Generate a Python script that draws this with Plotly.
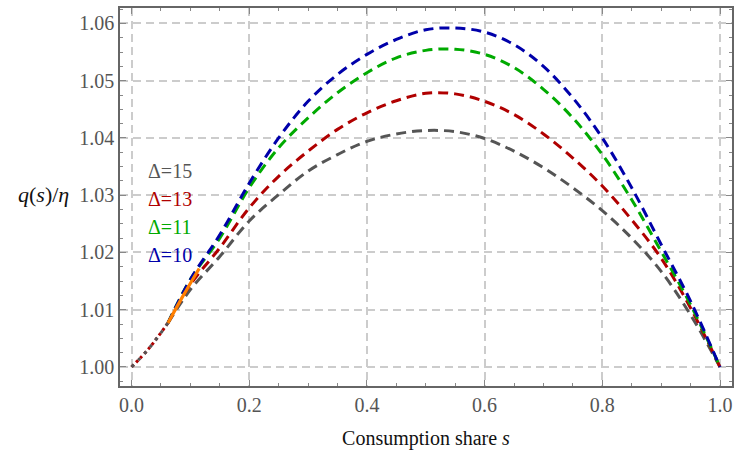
import plotly.graph_objects as go

# Consumption share grid for the dashed curves
s_vals = [0.062, 0.1, 0.15, 0.2, 0.25, 0.3, 0.35, 0.4, 0.45, 0.5, 0.55,
          0.6, 0.65, 0.7, 0.75, 0.8, 0.85, 0.9, 0.95, 1.0]

q_d15 = [1.0077, 1.0135, 1.0193, 1.0255, 1.0301, 1.0342, 1.0371, 1.0394, 1.0407, 1.0413, 1.0411,
         1.0399, 1.0377, 1.0348, 1.0313, 1.0273, 1.0225, 1.0167, 1.0091, 1.0000]
q_d13 = [1.0077, 1.0144, 1.0208, 1.0278, 1.0333, 1.0377, 1.0415, 1.0444, 1.0465, 1.0478, 1.0477,
         1.0464, 1.0441, 1.0407, 1.0365, 1.0316, 1.0257, 1.0190, 1.0103, 1.0000]
q_d11 = [1.0077, 1.0153, 1.0225, 1.0313, 1.0383, 1.0435, 1.0479, 1.0514, 1.0540, 1.0553, 1.0555,
         1.0546, 1.0523, 1.0485, 1.0435, 1.0371, 1.0292, 1.0202, 1.0109, 1.0000]
q_d10 = [1.0077, 1.0153, 1.0231, 1.0321, 1.0400, 1.0464, 1.0511, 1.0546, 1.0572, 1.0589, 1.0592,
         1.0585, 1.0563, 1.0525, 1.0470, 1.0400, 1.0313, 1.0214, 1.0115, 1.0000]

# Common low-share segment (dotted) and highlighted segment (orange)
s_low = [0.0, 0.03, 0.062]
q_low = [1.0, 1.0033, 1.0077]
s_hl = [0.062, 0.088, 0.115]
q_hl = [1.0077, 1.0125, 1.0172]

labels = ["Δ=15", "Δ=13", "Δ=11", "Δ=10"]
label_y = [1.0343, 1.0294, 1.0244, 1.0195]
colors = ["#555555", "#b00000", "#00aa00", "#0000aa"]
series = [q_d15, q_d13, q_d11, q_d10]

x_ticks = [0.0, 0.2, 0.4, 0.6, 0.8, 1.0]
y_ticks = [1.00, 1.01, 1.02, 1.03, 1.04, 1.05, 1.06]

FONT = "Liberation Serif"

fig = go.Figure()
fig.add_trace(go.Scatter(x=s_low, y=q_low, mode="lines", line_shape="spline",
                         line=dict(color="#b00000", width=3, dash="3px,3px")))
fig.add_trace(go.Scatter(x=s_low, y=q_low, mode="lines", line_shape="spline",
                         line=dict(color="#555555", width=3, dash="3px,6px")))
for q, c in zip(series, colors):
    fig.add_trace(go.Scatter(x=s_vals, y=q, mode="lines", line_shape="spline",
                             line=dict(color=c, width=3, dash="10px,6px")))
fig.add_trace(go.Scatter(x=s_hl, y=q_hl, mode="lines", line_shape="spline",
                         line=dict(color="#ff8000", width=3.2)))

for t, yv, c in zip(labels, label_y, colors):
    fig.add_annotation(x=0.024, y=yv, text=t, showarrow=False, xanchor="left",
                       yanchor="middle", font=dict(family=FONT, size=20, color=c))

fig.add_annotation(xref="paper", yref="y", x=0, y=1.0302, xanchor="right", yanchor="middle",
                   xshift=-49, showarrow=False,
                   text="<i>q</i>(<i>s</i>)/<i>η</i>",
                   font=dict(family=FONT, size=22, color="#111111"))

axis_common = dict(showline=True, linecolor="#666666", linewidth=1.5, mirror="ticks",
                   ticks="inside", ticklen=6, tickcolor="#888888", tickwidth=1,
                   showgrid=True, gridcolor="#cccccc", gridwidth=2, griddash="8px,5px",
                   zeroline=False, automargin=False,
                   tickfont=dict(family=FONT, size=20, color="#555555"))

fig.update_xaxes(range=[-0.0196, 1.0204], tickvals=x_ticks,
                 ticktext=[f"{v:.1f}" for v in x_ticks],
                 minor=dict(ticks="inside", ticklen=3, tickcolor="#888888", dtick=0.05, showgrid=False),
                 title=dict(text="Consumption share <i>s</i>",
                            font=dict(family=FONT, size=20, color="#111111"), standoff=16),
                 **axis_common)
fig.update_yaxes(range=[0.99668, 1.0627], tickvals=y_ticks,
                 ticktext=[f"{v:.2f}" for v in y_ticks],
                 minor=dict(ticks="inside", ticklen=3, tickcolor="#888888", dtick=0.0025, showgrid=False),
                 **axis_common)

fig.update_layout(width=734, height=454, showlegend=False,
                  plot_bgcolor="white", paper_bgcolor="white",
                  margin=dict(l=120, r=2, t=8, b=68),
                  font=dict(family=FONT))

fig.write_html("out.html", config={"displayModeBar": False},
               post_script="document.body.style.margin='0';document.body.style.overflow='hidden';")
